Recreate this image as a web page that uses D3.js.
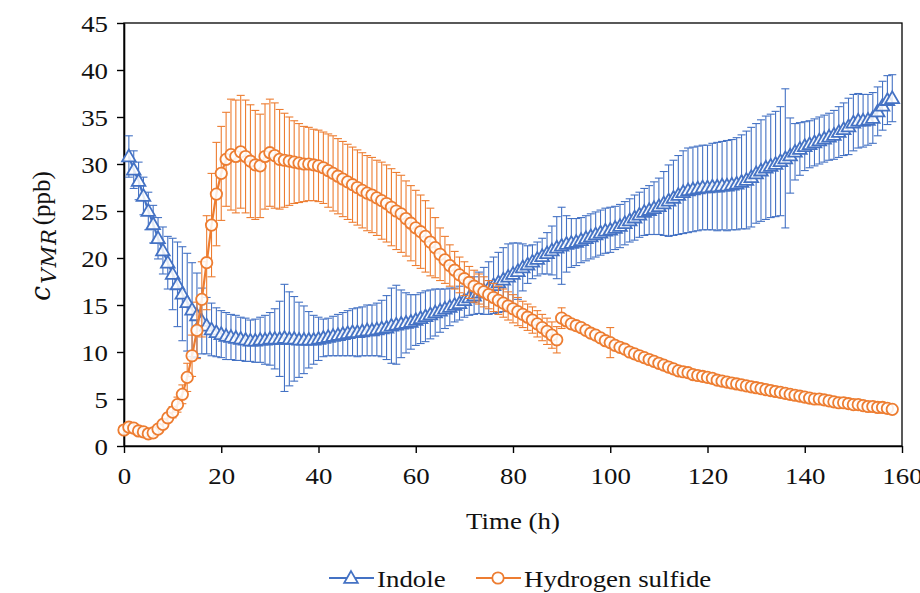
<!DOCTYPE html>
<html><head><meta charset="utf-8">
<script src="https://cdn.jsdelivr.net/npm/d3@7"></script>
<style>
html,body{margin:0;padding:0;background:#fff;}
svg text{font-family:'Liberation Serif','Times New Roman',Times,serif;fill:#111;}
</style></head>
<body><svg id="c" width="920" height="593"></svg>
<script>
// ---------- DATA ----------
const hours = [0,1,2,3,4,5,6,7,8,9,10,11,12,13,14,15,16,17,18,19,20,21,22,23,24,25,26,27,28,29,30,31,32,33,34,35,36,37,38,39,40,41,42,43,44,45,46,47,48,49,50,51,52,53,54,55,56,57,58,59,60,61,62,63,64,65,66,67,68,69,70,71,72,73,74,75,76,77,78,79,80,81,82,83,84,85,86,87,88,89,90,91,92,93,94,95,96,97,98,99,100,101,102,103,104,105,106,107,108,109,110,111,112,113,114,115,116,117,118,119,120,121,122,123,124,125,126,127,128,129,130,131,132,133,134,135,136,137,138,139,140,141,142,143,144,145,146,147,148,149,150,151,152,153,154,155,156,157,158];

const indole = [null,
 30.8,29.4,28.2,26.6,25.0,23.6,22.1,20.8,19.5,
 18.3,17.2,16.2,15.3,14.5,13.9,13.3,12.8,12.4,12.1,
 11.9,11.7,11.6,11.5,11.4,11.3,11.2,11.2,11.3,11.3,
 11.4,11.4,11.4,11.5,11.4,11.4,11.3,11.3,11.3,11.3,
 11.4,11.5,11.6,11.7,11.8,11.9,12.0,12.1,12.1,12.2,
 12.3,12.3,12.4,12.5,12.6,12.8,12.9,13.0,13.1,13.2,
 13.4,13.6,13.8,14.0,14.2,14.4,14.6,14.8,15.0,15.2,
 15.5,15.8,16.0,16.3,16.5,16.8,17.1,17.4,17.7,18.0,
 18.3,18.6,19.0,19.3,19.6,19.9,20.2,20.5,20.8,21.1,
 21.3,21.5,21.6,21.7,21.9,22.1,22.3,22.5,22.7,22.9,
 23.0,23.2,23.4,23.7,24.0,24.3,24.6,24.9,25.1,25.3,
 25.5,25.8,26.1,26.4,26.7,27.0,27.2,27.3,27.4,27.5,
 27.5,27.6,27.6,27.7,27.7,27.8,27.9,28.1,28.3,28.6,
 29.0,29.3,29.6,29.8,30.0,30.3,30.6,30.9,31.3,31.6,
 31.9,32.1,32.3,32.5,32.7,32.9,33.1,33.4,33.7,34.0,
 34.4,34.6,34.6,34.7,34.9,35.6,36.2,36.8,37.0];

const indoleErr = [null,
 2.2,2.0,2.0,2.0,2.0,2.0,2.2,2.5,2.8,
 3.8,4.5,5.0,5.2,5.0,4.5,3.5,3.0,2.8,2.6,
 2.5,2.5,2.4,2.4,2.3,2.3,2.2,2.3,2.4,2.6,
 2.8,3.2,4.0,5.7,5.0,4.5,4.0,3.6,3.0,2.6,
 2.3,2.0,2.0,2.1,2.2,2.3,2.4,2.5,2.6,2.6,
 2.7,2.7,2.8,3.0,3.4,4.0,4.2,3.6,3.2,2.9,
 2.7,2.7,2.7,2.6,2.5,2.3,2.1,2.0,1.8,1.8,
 1.8,1.9,2.0,2.2,2.5,2.8,3.0,3.2,3.4,3.5,
 3.3,3.0,2.5,2.0,1.8,1.8,1.9,2.2,2.6,3.3,
 4.1,3.0,2.6,2.5,2.4,2.4,2.4,2.4,2.4,2.4,
 2.4,2.3,2.3,2.3,2.3,2.4,2.4,2.5,2.6,2.8,
 3.0,3.4,3.8,4.0,4.2,4.4,4.5,4.5,4.5,4.5,
 4.5,4.6,4.7,4.7,4.8,4.8,4.9,5.0,5.2,5.3,
 5.3,5.4,5.5,5.5,5.6,5.8,7.4,4.0,3.0,2.8,
 2.6,2.5,2.5,2.5,2.5,2.5,2.6,2.7,2.8,3.0,
 3.0,2.9,2.8,2.7,2.7,2.6,2.6,2.6,2.5];

const h2s = [
 1.7,2.0,1.9,1.6,1.5,1.3,1.4,1.8,2.3,3.0,
 3.6,4.4,5.5,7.3,9.6,12.3,15.6,19.5,23.5,26.8,
 29.0,30.5,31.0,30.8,31.3,30.8,30.3,29.9,29.8,30.8,
 31.2,30.9,30.5,30.4,30.3,30.2,30.1,30.0,30.0,29.9,
 29.8,29.6,29.3,29.0,28.7,28.4,28.1,27.8,27.5,27.2,
 26.9,26.7,26.4,26.1,25.8,25.4,25.0,24.7,24.2,23.7,
 23.2,22.8,22.3,21.7,21.1,20.4,19.8,19.2,18.7,18.2,
 17.8,17.4,17.0,16.7,16.4,16.1,15.8,15.5,15.2,14.9,
 14.6,14.3,14.0,13.7,13.4,13.0,12.6,12.2,11.8,11.3,
 13.6,13.3,13.0,12.8,12.6,12.3,12.0,11.8,11.5,11.2,
 11.0,10.7,10.5,10.3,10.0,9.8,9.6,9.4,9.2,9.0,
 8.8,8.6,8.4,8.2,8.0,7.9,7.8,7.6,7.5,7.4,
 7.3,7.2,7.0,6.9,6.8,6.7,6.6,6.5,6.4,6.3,
 6.2,6.1,6.0,5.9,5.8,5.7,5.6,5.5,5.4,5.3,
 5.2,5.1,5.0,5.0,4.9,4.8,4.7,4.6,4.6,4.5,
 4.4,4.4,4.3,4.2,4.2,4.1,4.1,4.0,3.9];

const h2sErr = [
 0.4,0.4,0.3,0.3,0.3,0.3,0.3,0.3,0.4,0.5,
 0.6,0.8,1.0,1.5,2.2,3.0,4.0,5.0,5.5,5.5,
 5.0,5.0,5.9,6.0,6.0,6.0,6.0,5.8,5.5,5.6,
 5.7,5.6,5.3,5.0,4.7,4.4,4.2,4.0,3.9,3.8,
 3.8,3.8,3.9,4.0,4.0,4.0,4.0,4.0,4.0,4.0,
 4.0,4.0,4.0,4.1,4.1,4.1,4.1,4.1,4.0,4.0,
 4.0,3.9,3.8,3.6,3.2,2.8,2.5,2.2,2.0,1.9,
 1.8,1.7,1.7,1.6,1.6,1.5,1.5,1.5,1.5,1.5,
 1.5,1.5,1.4,1.4,1.4,1.4,1.4,1.4,1.4,1.4,
 1.1,0,0,0,0,0,0,0,0,0,
 1.6,0,0,0,0,0,0,0,0,0,
 0,0,0,0,0,0,0,0,0,0,
 0,0,0,0,0,0,0,0,0,0,
 0,0,0,0,0,0,0,0,0,0,
 0,0,0,0,0,0,0,0,0,0,
 0,0,0,0,0,0,0,0,0];

const h2sLineBreakAfter = 89;   // line is interrupted between 89 h and 90 h
const xTicks = [0,20,40,60,80,100,120,140,160];
const yTicks = [0,5,10,15,20,25,30,35,40,45];
const seriesNames = ["Indole","Hydrogen sulfide"];
const colors = {indole:"#4472C4", h2s:"#ED7D31"};

// ---------- CHART ----------
const SERIF = "'Liberation Serif','Times New Roman',Times,serif";
const FS = 24, SX = 1.12;   // text is slightly wide in the original
const svg = d3.select("#c");
const x = d3.scaleLinear().domain([0,160]).range([124,902]);
const y = d3.scaleLinear().domain([0,45]).range([446,23]);

// frame
svg.append("rect").attr("x",x(0)).attr("y",y(45)).attr("width",x(160)-x(0)).attr("height",y(0)-y(45))
  .attr("fill","none").attr("stroke","#000").attr("stroke-width",1.3);

// axes
const gx = svg.append("g").attr("transform",`translate(0,${y(0)})`)
  .call(d3.axisBottom(x).tickValues(xTicks).tickSizeInner(7).tickSizeOuter(0).tickPadding(14).tickFormat(d3.format("d")));
const gy = svg.append("g").attr("transform",`translate(${x(0)},0)`)
  .call(d3.axisLeft(y).tickValues(yTicks).tickSizeInner(7).tickSizeOuter(0).tickPadding(10).tickFormat(d3.format("d")));
[gx,gy].forEach(g=>{
  g.attr("font-family",null).attr("font-size",null);
  g.select(".domain").attr("stroke","#000").attr("stroke-width",1.6);
  g.selectAll(".tick line").attr("stroke","#000").attr("stroke-width",1.4);
  g.selectAll(".tick text").attr("font-size",FS).style("font-family",SERIF).attr("fill","#111");
});
gx.selectAll(".tick text").attr("transform",`scale(${SX},1)`);
gy.selectAll(".tick text").attr("x",0).attr("dy","0.34em").attr("transform",`translate(-16,0) scale(${SX},1)`);

// axis titles
svg.append("text").attr("transform",`translate(${(x(0)+x(160))/2},529) scale(${SX},1)`).attr("text-anchor","middle")
  .attr("font-size",FS).style("font-family",SERIF).text("Time (h)");
const yl = svg.append("text").attr("transform","translate(50,236) rotate(-90)").attr("text-anchor","middle").attr("font-size",25).style("font-family",SERIF);
yl.append("tspan").style("font-family","'DejaVu Serif',serif").attr("font-style","italic").attr("font-size",27).text("c");
yl.append("tspan").style("font-family","'DejaVu Serif',serif").attr("font-style","italic").attr("font-size",21)
  .attr("letter-spacing",1).attr("dx",2).attr("dy",6).text("VMR");
yl.append("tspan").attr("dy",-6).attr("dx",3).text("(ppb)");

// series helper
function pts(vals, errs){
  return hours.map((t,i)=>({t, v:vals[i], e:errs[i]})).filter(d=>d.v!=null);
}
const indPts = pts(indole, indoleErr);
const h2sPts = pts(h2s, h2sErr);

function errBars(data, color){
  const g = svg.append("g").attr("stroke",color).attr("stroke-width",1.1).attr("fill","none");
  data.filter(d=>d.e>0).forEach(d=>{
    const cx = x(d.t), y1=y(d.v+d.e), y2=y(d.v-d.e);
    g.append("line").attr("x1",cx).attr("x2",cx).attr("y1",y1).attr("y2",y2);
    g.append("line").attr("x1",cx-4).attr("x2",cx+4).attr("y1",y1).attr("y2",y1);
    g.append("line").attr("x1",cx-4).attr("x2",cx+4).attr("y1",y2).attr("y2",y2);
  });
}
const line = d3.line().x(d=>x(d.t)).y(d=>y(d.v));
const tri = d3.symbol().type(d3.symbolTriangle).size(80);

// Indole
errBars(indPts, colors.indole);
svg.append("path").datum(indPts).attr("d",line).attr("fill","none").attr("stroke",colors.indole).attr("stroke-width",2.2);
svg.append("g").selectAll("path").data(indPts).join("path")
  .attr("transform",d=>`translate(${x(d.t)},${y(d.v)+1})`).attr("d",tri)
  .attr("fill","#fff").attr("fill-opacity",0.85).attr("stroke",colors.indole).attr("stroke-width",1.8);

// Hydrogen sulfide
errBars(h2sPts, colors.h2s);
const segA = h2sPts.filter(d=>d.t<=h2sLineBreakAfter), segB = h2sPts.filter(d=>d.t>h2sLineBreakAfter);
[segA,segB].forEach(s=>svg.append("path").datum(s).attr("d",line).attr("fill","none").attr("stroke",colors.h2s).attr("stroke-width",2.2));
svg.append("g").selectAll("circle").data(h2sPts).join("circle")
  .attr("cx",d=>x(d.t)).attr("cy",d=>y(d.v)).attr("r",5.7)
  .attr("fill","#fff").attr("fill-opacity",0.85).attr("stroke",colors.h2s).attr("stroke-width",1.8);

// legend
const lg = svg.append("g");
const legendItems = [{name:seriesNames[0], c:colors.indole, sym:"tri", x0:329},
                     {name:seriesNames[1], c:colors.h2s, sym:"circ", x0:476}];
legendItems.forEach(it=>{
  const ly = 578;
  lg.append("line").attr("x1",it.x0).attr("x2",it.x0+45).attr("y1",ly).attr("y2",ly).attr("stroke",it.c).attr("stroke-width",2.2);
  if(it.sym==="tri") lg.append("path").attr("d",tri).attr("transform",`translate(${it.x0+22},${ly+1})`).attr("fill","#fff").attr("stroke",it.c).attr("stroke-width",1.8);
  else lg.append("circle").attr("cx",it.x0+22).attr("cy",ly).attr("r",5.7).attr("fill","#fff").attr("stroke",it.c).attr("stroke-width",1.8);
  lg.append("text").attr("transform",`translate(${it.x0+48},587) scale(${SX},1)`).attr("font-size",FS).style("font-family",SERIF).text(it.name);
});
</script></body></html>
